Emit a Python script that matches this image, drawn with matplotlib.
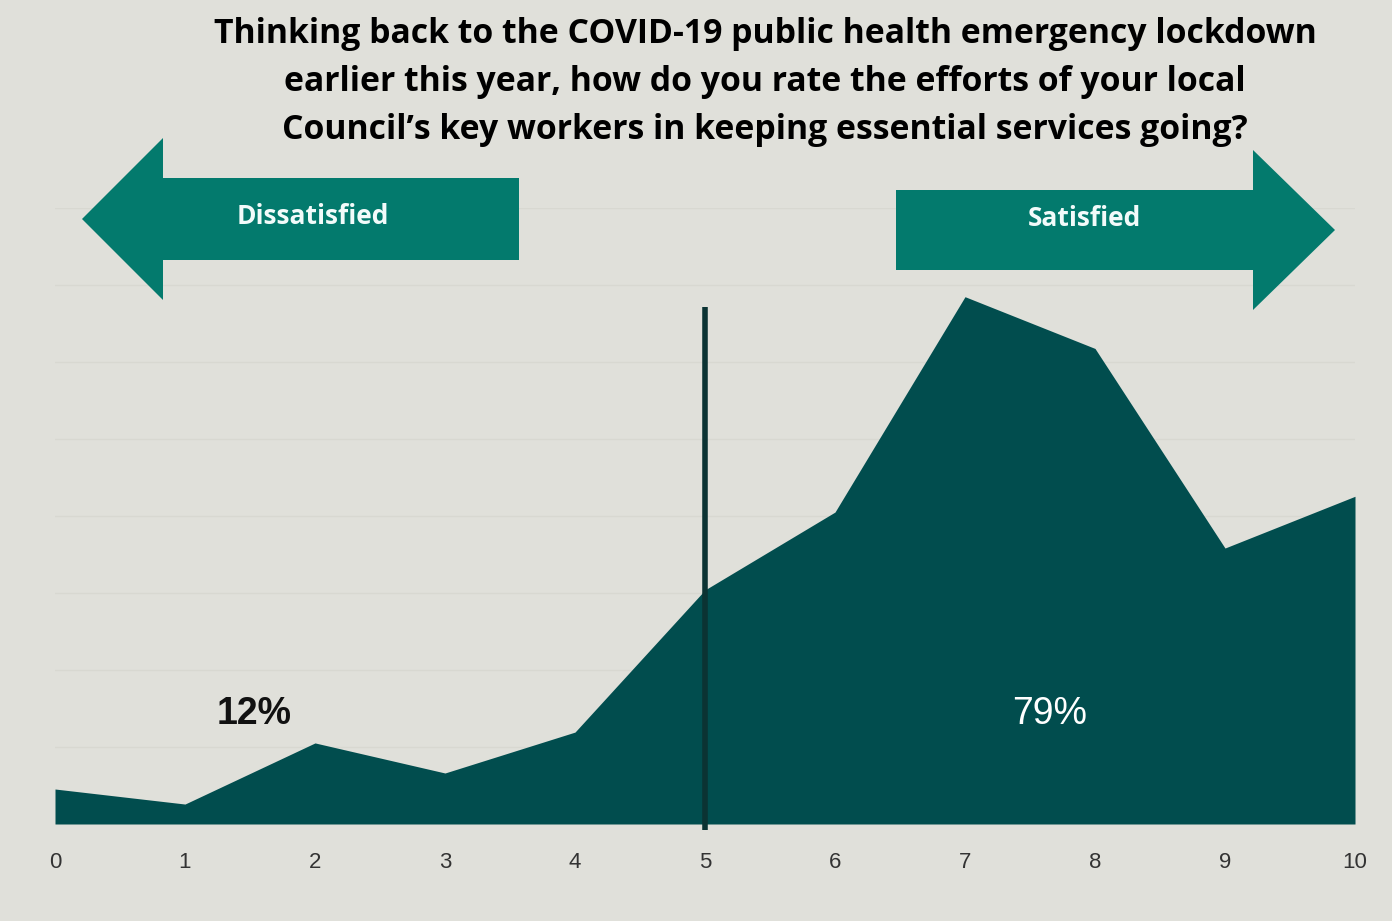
import numpy as np
import matplotlib.pyplot as plt
from matplotlib.patches import Polygon

# rating scale 0-10 and share of respondents (%)
ratings = [0, 1, 2, 3, 4, 5, 6, 7, 8, 9, 10]
shares = [1.42, 0.81, 3.29, 2.07, 3.73, 9.5, 12.66, 21.4, 19.3, 11.2, 13.3]

title = ("Thinking back to the COVID-19 public health emergency lockdown\n"
         "earlier this year, how do you rate the efforts of your local\n"
         "Council\u2019s key workers in keeping essential services going?")
left_label = "Dissatisfied"
right_label = "Satisfied"
left_pct = "12%"
right_pct = "79%"

BG = "#e0e0da"
FILL = "#014d4e"
ARROW = "#037a6d"
W, H = 1392, 921

fig = plt.figure(figsize=(W / 100, H / 100), dpi=100, facecolor=BG)
ax = fig.add_axes([55 / W, (H - 824) / H, 1300 / W, 616 / H])
ax.set_facecolor(BG)

ax.fill_between(ratings, shares, 0, color=FILL, linewidth=0, zorder=2)
ax.set_xlim(0, 10)
ax.set_ylim(0, 25)
ax.set_yticks(np.linspace(0, 25, 9))
ax.yaxis.grid(True, color="#d8d8d1", linewidth=1, zorder=0)
ax.tick_params(left=False, labelleft=False, bottom=False)
ax.set_xticks(ratings)
ax.set_xticklabels([str(r) for r in ratings], fontsize=16, color="#333333",
                   family="Liberation Sans")
ax.tick_params(axis="x", pad=17)
for s in ax.spines.values():
    s.set_visible(False)

# midpoint divider
ax.plot([5, 5], [-0.25, 21.0], color="#0b3333", linewidth=4, zorder=3,
        clip_on=False, solid_capstyle="butt")

ax.text(1.53, 4.45, left_pct, fontsize=27, fontweight="bold", color="#111111",
        ha="center", va="center", family="Liberation Sans")
ax.text(7.65, 4.45, right_pct, fontsize=27, color="white",
        ha="center", va="center", family="Liberation Sans")


def px(pts):
    # pixel (top-left origin) -> figure fraction
    return [(x / W, 1 - y / H) for x, y in pts]


left_arrow = [(82, 219), (163, 138), (163, 178), (519, 178), (519, 260),
              (163, 260), (163, 300)]
right_arrow = [(896, 190), (1253, 190), (1253, 150), (1335, 230), (1253, 310),
               (1253, 270), (896, 270)]
for shape in (left_arrow, right_arrow):
    fig.patches.append(Polygon(px(shape), closed=True, facecolor=ARROW,
                               edgecolor="none", transform=fig.transFigure))

fig.text(313 / W, 1 - 217 / H, left_label, fontsize=19, fontweight="bold",
         color="#f2fbfa", ha="center", va="center", family="Open Sans")
fig.text(1084 / W, 1 - 219 / H, right_label, fontsize=19, fontweight="bold",
         color="#f2fbfa", ha="center", va="center", family="Open Sans")

fig.text(765 / W, 1 - 82 / H, title, fontsize=24.3, fontweight="bold",
         color="black", ha="center", va="center", family="Open Sans",
         linespacing=1.54)

fig.savefig("out.png", dpi=100, facecolor=BG)
